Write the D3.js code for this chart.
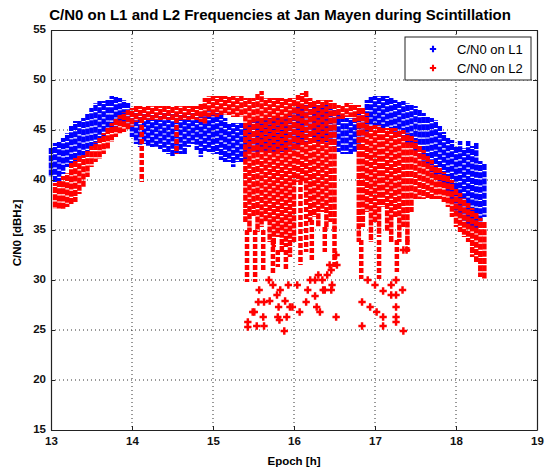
<!DOCTYPE html>
<html>
<head>
<meta charset="utf-8">
<script src="https://cdn.jsdelivr.net/npm/d3@7"></script>
<style>
  body { margin: 0; background: #fff; }
  svg { display: block; font-family: "Liberation Sans", Arial, sans-serif; }
</style>
</head>
<body>
<div id="chart"></div>
<script>
// epochs of the sampled columns [h]
const epochs = [
  13.00, 13.05, 13.10, 13.15, 13.20, 13.25, 13.30, 13.35, 13.40, 13.45,
  13.50, 13.55, 13.60, 13.65, 13.70, 13.75, 13.80, 13.85, 13.90, 13.95,
  14.00, 14.05, 14.10, 14.15, 14.20, 14.25, 14.30, 14.35, 14.40, 14.45,
  14.50, 14.55, 14.60, 14.65, 14.70, 14.75, 14.80, 14.85, 14.90, 14.95,
  15.00, 15.05, 15.10, 15.15, 15.20, 15.25, 15.30, 15.35, 15.40, 15.45,
  15.50, 15.55, 15.60, 15.65, 15.70, 15.75, 15.80, 15.85, 15.90, 15.95,
  16.00, 16.05, 16.10, 16.15, 16.20, 16.25, 16.30, 16.35, 16.40, 16.45,
  16.50, 16.55, 16.60, 16.65, 16.70, 16.75, 16.80, 16.85, 16.90, 16.95,
  17.00, 17.05, 17.10, 17.15, 17.20, 17.25, 17.30, 17.35, 17.40, 17.45,
  17.50, 17.55, 17.60, 17.65, 17.70, 17.75, 17.80, 17.85, 17.90, 17.95,
  18.00, 18.05, 18.10, 18.15, 18.20, 18.25, 18.30, 18.35
]

// C/N0 on L1: upper and lower edge of the cloud at each epoch [dBHz]
const l1High = [
  43.0, 43.5, 43.7, 44.0, 44.5, 45.2, 45.7, 45.7, 46.0, 46.5,
  47.0, 47.5, 47.7, 47.7, 47.8, 48.2, 48.2, 48.0, 47.8, 47.5,
  47.0, 46.5, 46.5, 46.5, 46.5, 46.5, 46.5, 46.5, 46.5, 46.5,
  46.5, 46.5, 46.5, 46.5, 46.5, 46.5, 46.5, 46.7, 46.7, 46.7,
  46.7, 46.5, 46.5, 46.0, 45.5, 45.5, 45.5, 45.5, 45.5, 45.5,
  45.8, 46.0, 46.0, 46.0, 46.0, 46.0, 46.0, 46.0, 46.3, 46.5,
  46.5, 47.3, 47.3, 47.3, 47.3, 47.3, 47.3, 47.3, 47.3, 47.0,
  46.8, 46.3, 46.3, 46.0, 46.0, 46.0, 46.5, 47.0, 47.8, 48.2,
  48.2, 48.2, 48.2, 48.2, 48.0, 47.8, 47.7, 47.7, 47.5, 47.3,
  47.2, 46.8, 46.5, 46.2, 46.0, 45.8, 45.2, 44.6, 44.0, 43.8,
  43.2, 43.7, 43.0, 43.7, 43.2, 43.5, 41.7, 41.5
]
const l1Low = [
  40.5, 40.0, 40.0, 40.8, 41.5, 41.8, 42.0, 42.2, 42.5, 43.0,
  43.2, 43.6, 44.0, 44.5, 45.0, 45.2, 45.5, 45.8, 46.0, 45.5,
  44.5, 43.8, 43.5, 43.8, 43.5, 43.5, 43.5, 43.3, 43.0, 42.8,
  42.5, 42.8, 42.8, 42.8, 43.5, 43.8, 43.2, 42.5, 43.0, 43.0,
  42.8, 42.8, 42.2, 42.0, 42.0, 41.5, 42.0, 42.0, 42.0, 43.0,
  43.0, 43.0, 43.0, 43.0, 43.0, 43.0, 43.0, 43.0, 43.0, 43.0,
  43.0, 43.5, 44.0, 44.0, 44.0, 44.0, 44.0, 44.0, 44.0, 44.0,
  43.5, 43.0, 42.8, 42.8, 42.8, 43.0, 43.5, 44.0, 44.5, 45.0,
  45.3, 45.3, 45.3, 45.3, 45.0, 44.8, 44.5, 44.0, 43.8, 43.5,
  43.0, 42.5, 42.0, 41.5, 41.0, 40.5, 40.0, 39.5, 39.0, 38.0,
  37.0, 36.5, 36.0, 35.7, 35.5, 35.3, 35.5, 36.5
]

// C/N0 on L2: upper and lower edge of the dense part at each epoch [dBHz]
const l2High = [
  null, 39.5, 39.8, 40.2, 40.5, 41.5, 42.0, 42.2, 42.3, 42.8,
  43.2, 43.6, 44.0, 44.5, 45.0, 45.5, 46.0, 46.3, 46.6, 46.8,
  47.0, 47.2, 47.2, 47.2, 47.2, 47.2, 47.2, 47.2, 47.2, 47.2,
  47.2, 47.2, 47.2, 47.2, 47.2, 47.2, 47.2, 47.5, 48.0, 48.2,
  48.2, 48.2, 48.2, 48.2, 48.2, 48.2, 48.2, 48.2, 48.0, 48.0,
  48.0, 48.5, 48.7, 48.0, 48.0, 48.0, 48.0, 48.0, 48.0, 48.0,
  48.0, 48.3, 48.5, 48.7, 48.0, 47.8, 47.8, 47.8, 47.8, 47.8,
  47.5, 47.3, 47.3, 47.5, 47.5, 47.3, 47.3, 47.0, 46.5, 45.3,
  45.3, 45.3, 45.0, 45.0, 45.0, 45.0, 44.8, 44.8, 44.5, 44.2,
  43.8, 43.2, 42.8, 42.3, 41.8, 41.3, 41.0, 40.6, 40.2, 39.8,
  39.0, 38.5, 38.0, 37.5, 37.0, 36.5, 36.0, 35.7
]
const l2Low = [
  null, 37.3, 37.3, 37.3, 37.5, 37.8, 38.0, 38.8, 39.5, 40.5,
  41.5, 42.0, 42.3, 42.8, 43.3, 44.0, 44.5, 44.8, 45.0, 45.2,
  45.5, 46.0, 46.2, 46.2, 46.2, 46.2, 46.2, 46.2, 46.2, 46.2,
  46.2, 46.2, 46.2, 46.2, 46.2, 46.2, 46.2, 46.0, 45.8, 46.5,
  46.5, 46.5, 46.7, 46.7, 46.7, 46.5, 46.5, 46.5, 36.0, 35.0,
  36.5, 35.0, 35.5, 36.0, 34.0, 33.5, 34.5, 33.0, 33.5, 32.5,
  34.0, 40.0, 40.0, 38.0, 36.0, 36.5, 35.5, 37.0, 35.3, 36.0,
  35.3, 46.3, 46.3, 46.5, 46.5, 46.0, 34.0, 35.5, 37.0, 34.0,
  36.0, 34.5, 37.5, 35.0, 34.0, 36.5, 34.0, 35.5, 34.0, 37.0,
  38.3, 38.3, 38.3, 38.3, 38.3, 38.3, 38.3, 38.0, 37.5, 36.5,
  35.5, 35.0, 34.5, 34.0, 32.5, 32.0, 30.5, 30.3
]

// C/N0 on L2: thinner streaks reaching below the dense part [epoch, low, high]
const l2Streaks = [
  [14.12, 40.0, 46.2], [14.55, 42.8, 46.2],
  [15.42, 30.0, 35.0], [15.52, 30.0, 35.0], [15.62, 31.0, 35.0],
  [15.74, 30.8, 34.0], [15.80, 31.5, 33.0], [15.90, 31.3, 33.0],
  [16.08, 31.7, 40.0], [16.15, 33.0, 38.0], [16.22, 32.0, 36.0],
  [16.38, 33.0, 35.3], [16.50, 31.3, 35.3], [16.83, 30.3, 34.0],
  [17.05, 30.3, 34.0], [17.27, 31.0, 34.0], [17.40, 33.0, 34.0]
]

// C/N0 on L2: isolated deep fades [epoch, value]
const l2Fades = [
  [15.43, 25.8], [15.43, 25.3], [15.54, 25.4], [15.63, 25.4], [15.51, 26.8],
  [15.62, 26.3], [15.56, 27.8], [15.70, 27.9], [15.80, 26.3], [15.81, 27.3],
  [15.88, 24.9], [15.91, 26.3], [15.89, 27.9], [15.98, 27.3], [16.07, 26.8],
  [16.15, 27.8], [16.26, 28.4], [16.17, 29.0], [16.28, 27.3], [16.38, 29.0],
  [16.46, 29.0], [16.52, 26.3], [16.46, 31.0], [16.52, 32.5], [16.84, 27.8],
  [16.84, 25.4], [16.91, 30.0], [17.00, 29.5], [17.10, 26.3], [17.10, 25.4],
  [16.94, 27.3], [17.10, 28.9], [15.79, 28.5], [15.74, 29.5], [15.83, 29.0],
  [15.93, 29.5], [16.04, 29.5], [16.26, 30.0], [16.30, 30.5], [16.35, 30.0],
  [16.41, 30.5], [17.02, 26.8], [17.20, 29.5], [17.26, 30.0], [17.20, 28.5],
  [17.26, 28.5], [17.34, 29.0], [17.26, 27.3], [17.26, 26.3], [17.26, 25.8],
  [17.35, 24.9], [17.39, 33.0], [17.35, 33.0], [15.69, 30.0], [15.57, 29.0],
  [15.63, 27.8], [15.82, 26.0], [15.95, 27.3], [15.49, 26.8], [16.32, 26.8],
  [16.44, 31.5], [16.53, 31.5], [16.20, 30.0], [16.36, 29.0], [16.47, 29.5]
]

const xTicks = [13, 14, 15, 16, 17, 18, 19]
const yTicks = [15, 20, 25, 30, 35, 40, 45, 50, 55]

const seriesNames = ["C/N0 on L1", "C/N0 on L2"]
const seriesColors = ["#0000ff", "#ff0000"]

// dimensions
const margin = { top: 30, right: 12, bottom: 41, left: 51 }
const width = 549 - margin.left - margin.right
const height = 471 - margin.top - margin.bottom

const svg = d3.select("#chart")
  .append("svg")
    .attr("width", 549)
    .attr("height", 471)

const g = svg.append("g")
    .attr("transform", "translate(" + margin.left + "," + margin.top + ")")

const x = d3.scaleLinear().domain([13, 19]).range([0, width])
const y = d3.scaleLinear().domain([15, 55]).range([height, 0])

// dotted grid
g.append("g")
  .selectAll("line")
  .data(xTicks.slice(1, -1))
  .join("line")
    .attr("x1", d => x(d)).attr("x2", d => x(d))
    .attr("y1", 0).attr("y2", height)
    .attr("stroke", "#333")
    .attr("stroke-width", 1)
    .attr("stroke-dasharray", "1,3")

g.append("g")
  .selectAll("line")
  .data(yTicks.slice(1, -1))
  .join("line")
    .attr("y1", d => y(d)).attr("y2", d => y(d))
    .attr("x1", 0).attr("x2", width)
    .attr("stroke", "#333")
    .attr("stroke-width", 1)
    .attr("stroke-dasharray", "1,3")

// columns of samples; the dash offset is shuffled per column so the
// little white gaps do not line up into stripes
function drawColumns(hi, lo, color) {
  const cols = epochs.map((e, i) => ({ e: e, hi: hi[i], lo: lo[i], k: i }))
    .filter(d => d.hi != null)
  g.append("g")
    .selectAll("line")
    .data(cols)
    .join("line")
      .attr("x1", d => x(d.e)).attr("x2", d => x(d.e))
      .attr("y1", d => y(d.hi) - 2)
      .attr("y2", d => y(d.lo) + 2)
      .attr("stroke", color)
      .attr("stroke-width", 4.5)
      .attr("stroke-dasharray", "6,1.2")
      .attr("stroke-dashoffset", d => ((d.k * 3) % 7) * 1.03)
}

drawColumns(l1High, l1Low, seriesColors[0])
drawColumns(l2High, l2Low, seriesColors[1])

g.append("g")
  .selectAll("line")
  .data(l2Streaks)
  .join("line")
    .attr("x1", d => x(d[0])).attr("x2", d => x(d[0]))
    .attr("y1", d => y(d[2]))
    .attr("y2", d => y(d[1]) + 2)
    .attr("stroke", seriesColors[1])
    .attr("stroke-width", 4.5)
    .attr("stroke-dasharray", "5,2")

const cross = d3.symbol().type(d3.symbolCross).size(30)

g.append("g")
  .selectAll("path")
  .data(l2Fades)
  .join("path")
    .attr("transform", d => "translate(" + x(d[0]) + "," + y(d[1]) + ")")
    .attr("d", cross)
    .attr("fill", seriesColors[1])

// axes with inward ticks
function styleAxis(sel) {
  sel.select(".domain").attr("stroke", "#222").attr("stroke-width", 1.2)
  sel.selectAll(".tick line").attr("stroke", "#222")
  sel.selectAll(".tick text")
    .attr("font-size", 11.5)
    .attr("font-weight", "bold")
    .attr("fill", "#111")
}

g.append("g")
  .attr("transform", `translate(0,${height})`)
  .call(d3.axisBottom(x).tickValues(xTicks).tickFormat(d3.format("d"))
    .tickSizeInner(-4).tickSizeOuter(0).tickPadding(7))
  .call(styleAxis)

g.append("g")
  .call(d3.axisTop(x).tickValues(xTicks).tickSizeInner(-4).tickSizeOuter(0).tickFormat(""))
  .call(styleAxis)

g.append("g")
  .call(d3.axisLeft(y).tickValues(yTicks).tickSizeInner(-4).tickSizeOuter(0).tickPadding(5))
  .call(styleAxis)
  .selectAll(".tick text").attr("dy", "0.2em")

g.append("g")
  .attr("transform", `translate(${width},0)`)
  .call(d3.axisRight(y).tickValues(yTicks).tickSizeInner(-4).tickSizeOuter(0).tickFormat(""))
  .call(styleAxis)

// titles
svg.append("text")
  .attr("x", 280)
  .attr("y", 20)
  .attr("text-anchor", "middle")
  .attr("font-size", 15)
  .attr("font-weight", "bold")
  .text("C/N0 on L1 and L2 Frequencies at Jan Mayen during Scintillation")

svg.append("text")
  .attr("x", margin.left + width / 2)
  .attr("y", 465)
  .attr("text-anchor", "middle")
  .attr("font-size", 11.5)
  .attr("font-weight", "bold")
  .text("Epoch [h]")

svg.append("text")
  .attr("transform", `translate(21,${margin.top + height / 2 + 3}) rotate(-90)`)
  .attr("text-anchor", "middle")
  .attr("font-size", 11.5)
  .attr("font-weight", "bold")
  .text("C/N0 [dBHz]")

// legend
const legend = svg.append("g").attr("transform", "translate(405,37)")
legend.append("rect")
  .attr("width", 126).attr("height", 43)
  .attr("fill", "#fff")
  .attr("stroke", "#222")
  .attr("stroke-width", 1)

seriesNames.forEach((name, i) => {
  legend.append("path")
    .attr("transform", `translate(28,${12 + i * 19})`)
    .attr("d", d3.symbol().type(d3.symbolCross).size(22))
    .attr("fill", seriesColors[i])
  legend.append("text")
    .attr("x", 52)
    .attr("y", 16.5 + i * 19)
    .attr("font-size", 13)
    .text(name)
})
</script>
</body>
</html>
